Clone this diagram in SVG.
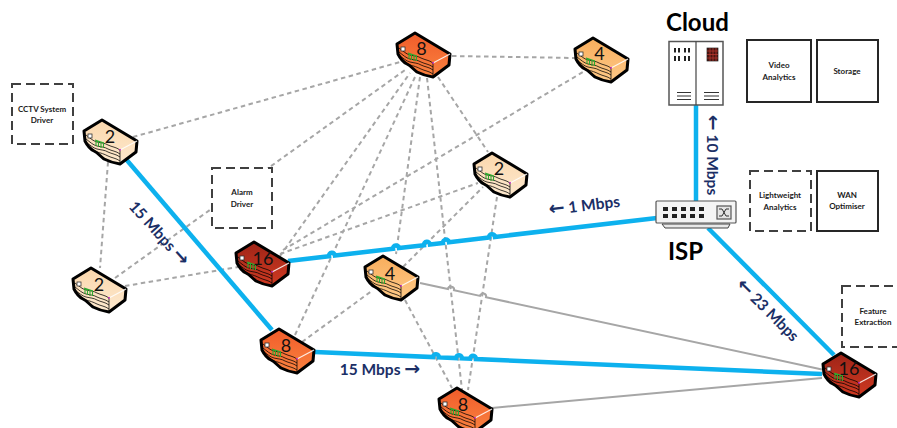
<svg xmlns="http://www.w3.org/2000/svg" width="897" height="428" viewBox="0 0 897 428">
<style>
.dash{fill:none;stroke:#a6a6a6;stroke-width:2;stroke-dasharray:4.5 3.5}
.gray{fill:none;stroke:#a6a6a6;stroke-width:2}
.blue{fill:none;stroke:#0db1ee;stroke-width:4.500}
.box{fill:#fff;stroke:#262626;stroke-width:2}
.dbox{fill:#fff;stroke:#404040;stroke-width:2;stroke-dasharray:9 5}
.small{font:700 8px Lato,"Liberation Sans",sans-serif;fill:#1a1a1a;text-anchor:middle}
.num{font:400 18px Lato,"Liberation Sans",sans-serif;fill:#111;text-anchor:middle}
.speed{font:700 15.500px Lato,"Liberation Sans",sans-serif;fill:#1b2f66;text-anchor:middle}
.arr{font:700 19px "DejaVu Sans",sans-serif}
.title{font:700 24px Lato,"Liberation Sans",sans-serif;fill:#000}
.shell{stroke:#000;stroke-width:3;stroke-linejoin:round}
.wave{fill:none;stroke:#000;stroke-opacity:.75;stroke-width:1}
.hl{fill:none;stroke:#fff;stroke-opacity:.85;stroke-width:1.300}
.grn{fill:none;stroke:#2fa82f;stroke-width:1.100}
.port{fill:#222}
.rack{fill:none;stroke:#333;stroke-width:1.200}
</style>
<defs>
<linearGradient id="g16" x1="0" y1="0" x2="0" y2="1"><stop offset="0" stop-color="#9e2417"/><stop offset="1" stop-color="#d03a22"/></linearGradient>
<linearGradient id="g8" x1="0" y1="0" x2="0" y2="1"><stop offset="0" stop-color="#f05c2a"/><stop offset="1" stop-color="#fa8240"/></linearGradient>
<linearGradient id="g4" x1="0" y1="0" x2="0" y2="1"><stop offset="0" stop-color="#f9ad5c"/><stop offset="1" stop-color="#fdc988"/></linearGradient>
<linearGradient id="g2" x1="0" y1="0" x2="0" y2="1"><stop offset="0" stop-color="#fbd7ac"/><stop offset="1" stop-color="#fde9cf"/></linearGradient>
<path id="shell" class="shell" d="M0 0L35 21L34 32L18 44C11 43 6 41 2 39C-2 36 -4 33 -8 31C-12 29 -15 25 -17 21L-18 11Z"/>
<g id="detail">
<path class="wave" d="M-16 15C-12 18 -9 21 -5 22C-1 23 3 23 6 25C10 27 14 27 18 30"/>
<path class="wave" d="M-16 19C-12 22 -9 25 -5 26C-1 27 3 27 6 29C10 31 14 31 18 34"/>
<path class="wave" d="M-16 22C-12 25 -9 28 -5 29C-1 30 3 30 6 32C10 34 14 34 18 37"/>
<path class="wave" d="M-14 25C-11 28 -9 30 -5 32C-1 33 2 34 6 36C10 38 14 38 18 41"/>
<path class="wave" d="M18 30V44"/>
<path class="hl" d="M18 30L35 21"/>
<path class="grn" d="M-7 20L2 23M-6 20V26M-3.500 21V27M-1 22V28M1.500 23V28"/>
<rect x="-14" y="14" width="4" height="4" fill="#fff" stroke="#333" stroke-width=".8"/>
<rect x="17.200" y="29" width="1.600" height="1.600" fill="#c020c0"/>
</g>
</defs>
<g id="connectors">
<path class="dash" d="M133 137L400 62"/>
<path class="dash" d="M108 162L100 268"/>
<path class="dash" d="M115 278L405 70"/>
<path class="dash" d="M125 286L238 267"/>
<path class="dash" d="M280 256L410 73"/>
<path class="dash" d="M283 250L583 72"/>
<path class="dash" d="M280 254L478 183"/>
<path class="dash" d="M295 335L415 77"/>
<path class="dash" d="M302 342L373 290"/>
<path class="dash" d="M420 77L396 254"/>
<path class="dash" d="M403 267L483 187"/>
<path class="dash" d="M497 197L468 390"/>
<path class="dash" d="M427 78L462 390"/>
<path class="dash" d="M438 77L488 152"/>
<path class="dash" d="M405 300L452 388"/>
<path class="dash" d="M452 56L576 58"/>
<path class="gray" d="M420 283L448 289A3 3 0 0 1 454 290.3L480 295.9A3 3 0 0 1 486 297.2L822 369.4"/>
<path class="gray" d="M492 408L822 378"/>
<path class="blue" d="M125 158L272 330"/>
<path class="blue" d="M288 261L329 256.2A3 3 0 0 1 335 255.5L393 248.8A3 3 0 0 1 399 248.1L424 245.2A3 3 0 0 1 430 244.5L443 243A3 3 0 0 1 449 242.2L489 237.6A3 3 0 0 1 495 236.9L657 218"/>
<path class="blue" d="M315 352L433 357.1A3 3 0 0 1 439 357.4L456 358.1A3 3 0 0 1 462 358.4L470 358.7A3 3 0 0 1 476 359L822 374"/>
<path class="blue" d="M696 105V201"/>
<path class="blue" d="M708 228L834 355"/>
</g>
<g id="box-cctv"><rect class="dbox" x="12" y="84" width="61" height="60"/><text class="small" x="42" y="112">CCTV System</text><text class="small" x="42" y="123">Driver</text></g>
<g id="box-alarm"><rect class="dbox" x="212" y="168" width="60" height="60"/><text class="small" x="242" y="195">Alarm</text><text class="small" x="242" y="207">Driver</text></g>
<g id="box-video"><rect class="box" x="747" y="40" width="64" height="62"/><text class="small" x="779" y="68">Video</text><text class="small" x="779" y="80">Analytics</text></g>
<g id="box-storage"><rect class="box" x="817" y="40" width="61" height="62"/><text class="small" x="847" y="74">Storage</text></g>
<g id="box-lightweight"><rect class="dbox" x="750" y="171" width="61" height="60"/><text class="small" x="780" y="198">Lightweight</text><text class="small" x="780" y="210">Analytics</text></g>
<g id="box-wan"><rect class="box" x="817" y="171" width="61" height="60"/><text class="small" x="847" y="198">WAN</text><text class="small" x="847" y="209">Optimiser</text></g>
<g id="box-feature"><rect class="dbox" x="842" y="286" width="62" height="61"/><text class="small" x="873" y="314">Feature</text><text class="small" x="873" y="325">Extraction</text></g>
<g id="cloud">
<rect x="669" y="41.500" width="54" height="63.500" fill="#fff" stroke="#555" stroke-width="1.500"/>
<path d="M696 41.500V105" stroke="#444" stroke-width="1.200"/>
<path class="port" d="M674 48h2v4.500h-2zM678 48h2v4.500h-2zM684 48h2v4.500h-2zM688 48h2v4.500h-2zM674 56h2v5h-2zM678 56h2v5h-2zM684 56h2v5h-2zM688 56h2v5h-2z"/>
<rect x="707" y="48" width="11" height="13" fill="#4a1410" stroke="#222" stroke-width=".7"/>
<path d="M710 48V61M713 48V61M716 48V61M707 51H718M707 54.500H718M707 58H718" stroke="#c03a30" stroke-width=".7" fill="none"/>
<path class="rack" d="M677 92.500h14M677 96h14M677 99.500h14M704 92.500h15M704 96h15M704 99.500h15"/>
<text class="title" x="666" y="31">Cloud</text>
</g>
<g id="isp">
<path d="M662 224H730L728 228H665Z" fill="#e8e8e8" stroke="#444" stroke-width="1"/>
<rect x="656" y="201" width="80" height="22" rx="1" fill="#f4f4f4" stroke="#555" stroke-width="1.200"/>
<path class="port" d="M663 207h5v4h-5zM672 207h5v4h-5zM681 207h5v4h-5zM690 207h5v4h-5zM699 207h5v4h-5zM663 214h5v4h-5zM672 214h5v4h-5zM681 214h5v4h-5zM690 214h5v4h-5zM699 214h5v4h-5z"/>
<rect x="717" y="206" width="14" height="13" fill="#e4e4e4" stroke="#555" stroke-width="1.200"/>
<path d="M719 209H722L726 216H729M719 216H722L726 209H729" fill="none" stroke="#333" stroke-width="1"/>
<text class="title" x="668" y="260">ISP</text>
</g>
<g id="node-8-top" transform="translate(415 33)"><use href="#shell" fill="url(#g8)"/><use href="#detail"/><text class="num" x="6.500" y="22">8</text></g>
<g id="node-4-top" transform="translate(593 38)"><use href="#shell" fill="url(#g4)"/><use href="#detail"/><text class="num" x="6.500" y="22">4</text></g>
<g id="node-2-mid" transform="translate(492 153)"><use href="#shell" fill="url(#g2)"/><use href="#detail"/><text class="num" x="7" y="22">2</text></g>
<g id="node-2-left" transform="translate(102 120)"><use href="#shell" fill="url(#g2)"/><use href="#detail"/><text class="num" x="8" y="23">2</text></g>
<g id="node-2-low" transform="translate(91 268)"><use href="#shell" fill="url(#g2)"/><use href="#detail"/><text class="num" x="8" y="23">2</text></g>
<g id="node-16-left" transform="translate(254 242)"><use href="#shell" fill="url(#g16)"/><use href="#detail"/><text class="num" x="9" y="23">16</text></g>
<g id="node-4-mid" transform="translate(383 256)"><use href="#shell" fill="url(#g4)"/><use href="#detail"/><text class="num" x="7" y="24">4</text></g>
<g id="node-8-low" transform="translate(279 329)"><use href="#shell" fill="url(#g8)"/><use href="#detail"/><text class="num" x="7" y="23">8</text></g>
<g id="node-8-bottom" transform="translate(457 388)"><use href="#shell" fill="url(#g8)"/><use href="#detail"/><text class="num" x="6" y="23">8</text></g>
<g id="node-16-right" transform="translate(841 353)"><use href="#shell" fill="url(#g16)"/><use href="#detail"/><text class="num" x="8" y="22">16</text></g>
<g id="labels">
<text class="speed" transform="translate(155 237) rotate(48)">15 Mbps <tspan class="arr">→</tspan></text>
<text class="speed" x="380" y="375">15 Mbps <tspan class="arr">→</tspan></text>
<text class="speed" transform="translate(585 211) rotate(-7)"><tspan class="arr">←</tspan> 1 Mbps</text>
<text class="speed" transform="translate(707 155) rotate(90)"><tspan class="arr">←</tspan> 10 Mbps</text>
<text class="speed" transform="translate(764 314) rotate(45)"><tspan class="arr">←</tspan> 23 Mbps</text>
</g>
</svg>
